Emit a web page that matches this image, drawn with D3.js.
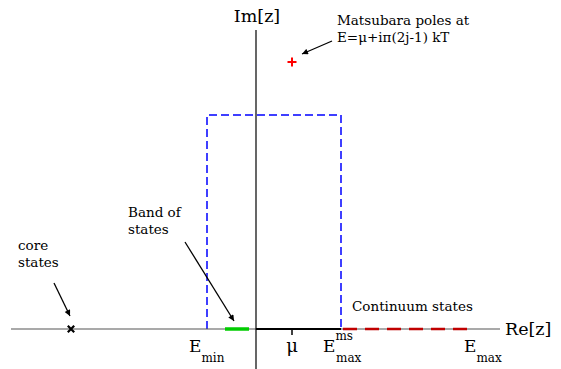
<!DOCTYPE html>
<html>
<head>
<meta charset="utf-8">
<script src="https://cdn.jsdelivr.net/npm/d3@7"></script>
<style>
  body { margin: 0; background: #fff; }
  svg text { font-family: 'DejaVu Serif', 'Liberation Serif', serif; }
</style>
</head>
<body>
<div id="chart"></div>
<script>
// Data (units: complex energy plane, 1 unit ~ 10px, origin at the crossing of the axes)
const reAxisRange = [-24.5, 24.4]
const imAxisRange = [-4.0, 29.9]
const corePoles = [-18.5]
const bandRange = [-3.1, -0.7]
const mu = 3.6
const eMin = -4.9
const eMaxMs = 8.5
const eMax = 21.9
const contourTop = 21.4
const matsubaraPoles = [[3.6, 26.7]]

// annotation labels: [text lines, x, y] in plane units
const textLabels = [
  { lines: ['Matsubara poles at', 'E=\u03bc+i\u03c0(2j-1) kT'], x: 8.1, y: 30.4 },
  { lines: ['Band of', 'states'], x: -12.8, y: 11.2 },
  { lines: ['core', 'states'], x: -23.8, y: 7.9 },
  { lines: ['Continuum states'], x: 9.6, y: 1.8 },
]
const arrows = [
  [[7.6, 28.8], [4.6, 27.5]],
  [[-7.1, 8.7], [-2.2, 0.8]],
  [[-20.2, 4.6], [-18.6, 1.3]],
]

function draw() {
  const width = 561
  const height = 369

  const svg = d3.select('#chart')
    .append('svg')
    .attr('width', width)
    .attr('height', height)

  // Scales
  const x = d3.scaleLinear().domain([0, 10]).range([256, 356])
  const y = d3.scaleLinear().domain([0, 10]).range([329, 229])

  const defs = svg.append('defs')
  defs.append('marker')
    .attr('id', 'head')
    .attr('viewBox', '0 0 10 10')
    .attr('refX', 10)
    .attr('refY', 5)
    .attr('markerWidth', 8)
    .attr('markerHeight', 6)
    .attr('markerUnits', 'userSpaceOnUse')
    .attr('orient', 'auto')
    .append('path')
    .attr('d', 'M0,0 L10,5 L0,10 z')
    .attr('fill', '#000')

  // Contour (blue dashed)
  svg.append('path')
    .attr('d', d3.line()([
      [x(eMin), y(0)], [x(eMin), y(contourTop)],
      [x(eMaxMs), y(contourTop)], [x(eMaxMs), y(0)]
    ]))
    .attr('fill', 'none')
    .attr('stroke', '#0000ff')
    .attr('stroke-width', 1.5)
    .attr('stroke-dasharray', '8,4')

  // Real axis
  svg.append('line')
    .attr('x1', x(reAxisRange[0])).attr('x2', x(reAxisRange[1]))
    .attr('y1', y(0)).attr('y2', y(0))
    .attr('stroke', '#555').attr('stroke-width', 1.2)

  // thick segment between origin and E_max^ms
  svg.append('line')
    .attr('x1', x(0)).attr('x2', x(eMaxMs))
    .attr('y1', y(0)).attr('y2', y(0))
    .attr('stroke', '#000').attr('stroke-width', 2.2)

  // continuum (red dashed)
  svg.append('line')
    .attr('x1', x(eMaxMs)).attr('x2', x(eMax))
    .attr('y1', y(0)).attr('y2', y(0))
    .attr('stroke', '#c00000').attr('stroke-width', 2.5)
    .attr('stroke-dasharray', '14,8')
    .attr('stroke-dashoffset', -2)

  // band of states (green)
  svg.append('line')
    .attr('x1', x(bandRange[0])).attr('x2', x(bandRange[1]))
    .attr('y1', y(0)).attr('y2', y(0))
    .attr('stroke', '#00cc00').attr('stroke-width', 3.5)

  // Imaginary axis
  svg.append('line')
    .attr('x1', x(0)).attr('x2', x(0))
    .attr('y1', y(imAxisRange[0])).attr('y2', y(imAxisRange[1]))
    .attr('stroke', '#000').attr('stroke-width', 1.2)

  // mu tick
  svg.append('line')
    .attr('x1', x(mu)).attr('x2', x(mu))
    .attr('y1', y(0)).attr('y2', y(-0.6))
    .attr('stroke', '#000').attr('stroke-width', 1.5)

  // core states marker
  svg.selectAll('.core')
    .data(corePoles)
    .join('path')
    .attr('class', 'core')
    .attr('d', d => {
      const cx = x(d), cy = y(0), r = 3.2
      return `M${cx - r},${cy - r}L${cx + r},${cy + r}M${cx - r},${cy + r}L${cx + r},${cy - r}`
    })
    .attr('stroke', '#000').attr('stroke-width', 2.2)

  // Matsubara poles
  svg.selectAll('.pole')
    .data(matsubaraPoles)
    .join('path')
    .attr('class', 'pole')
    .attr('d', d => {
      const cx = x(d[0]), cy = y(d[1]), r = 4.5
      return `M${cx - r},${cy}L${cx + r},${cy}M${cx},${cy - r}L${cx},${cy + r}`
    })
    .attr('stroke', '#ff0000').attr('stroke-width', 2)

  // Arrows
  svg.selectAll('.arrow')
    .data(arrows)
    .join('line')
    .attr('class', 'arrow')
    .attr('x1', d => x(d[0][0])).attr('y1', d => y(d[0][1]))
    .attr('x2', d => x(d[1][0])).attr('y2', d => y(d[1][1]))
    .attr('stroke', '#000').attr('stroke-width', 1.3)
    .attr('marker-end', 'url(#head)')

  // Text labels, one text element per line
  const lines = textLabels.flatMap(d => d.lines.map((t, i) => ({ t, x: d.x, y: d.y - i * 1.65 })))
  svg.selectAll('.lbl')
    .data(lines)
    .join('text')
    .attr('class', 'lbl')
    .attr('x', d => x(d.x))
    .attr('y', d => y(d.y))
    .style('font-size', '13.5px')
    .text(d => d.t)

  // Axis titles
  svg.append('text')
    .attr('x', x(0.1)).attr('y', y(imAxisRange[1] + 0.8))
    .attr('text-anchor', 'middle')
    .style('font-size', '17.5px')
    .text('Im[z]')
  svg.append('text')
    .attr('x', x(reAxisRange[1] + 0.5)).attr('y', y(-0.6))
    .style('font-size', '17.5px')
    .text('Re[z]')

  // Energy labels
  const eLabel = (pos, sub, sup) => {
    const x0 = x(pos) - 18
    const t = svg.append('text')
      .attr('x', x0).attr('y', y(-2.3))
      .style('font-size', '17px')
    t.append('tspan').text('E')
    if (sup) {
      t.append('tspan').attr('dy', -12).style('font-size', '12px').text(sup)
      t.append('tspan').attr('x', x0 + 13).attr('dy', 22).style('font-size', '12px').text(sub)
    } else {
      t.append('tspan').attr('dy', 10).style('font-size', '12px').text(sub)
    }
  }
  eLabel(eMin, 'min')
  eLabel(eMaxMs, 'max', 'ms')
  eLabel(eMax + 0.7, 'max')

  svg.append('text')
    .attr('x', x(mu)).attr('y', y(-2.3))
    .attr('text-anchor', 'middle')
    .style('font-size', '18px')
    .text('\u03bc')
}

draw()
</script>
</body>
</html>
